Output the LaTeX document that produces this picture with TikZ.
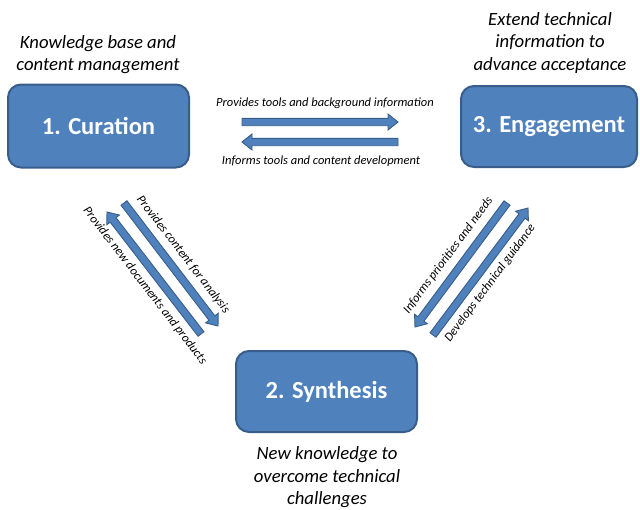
\documentclass[tikz,border=0pt]{standalone}
\usepackage{fontspec}
\setmainfont{Carlito}
\usetikzlibrary{calc}
\definecolor{boxblue}{HTML}{4F81BD}
\definecolor{boxline}{HTML}{385D8A}
\begin{document}
\begin{tikzpicture}[x=1pt,y=-1pt,
  box/.style={draw=boxline, fill=boxblue, line width=2pt, rounded corners=13pt,
    text=white, font=\fontsize{24.5}{28}\selectfont\bfseries, inner sep=0pt},
  note/.style={font=\fontsize{18.7}{22.5}\selectfont\itshape, align=center, inner sep=0pt},
  lbl/.style={font=\fontsize{12.5}{14}\selectfont\itshape, inner sep=0pt},
  blockarrow/.style={draw=boxline, fill=boxblue, line width=0.9pt, line join=miter,
    to path={
      ($(\tikztotarget)!10pt!(\tikztostart)$) coordinate (tmph)
      ($(\tikztostart)!3.7pt!90:(\tikztotarget)$)
      -- ($(tmph)!3.7pt!90:(\tikztotarget)$)
      -- ($(tmph)!8pt!90:(\tikztotarget)$)
      -- (\tikztotarget)
      -- ($(tmph)!8pt!-90:(\tikztotarget)$)
      -- ($(tmph)!3.7pt!-90:(\tikztotarget)$)
      -- ($(\tikztostart)!3.7pt!-90:(\tikztotarget)$)
      -- cycle}}
]
\useasboundingbox (0,0) rectangle (640,509);

% boxes
\node[box, minimum width=181pt, minimum height=83pt] (cur) at (98.5,126) {1. Curation};
\node[box, minimum width=176pt, minimum height=81pt] (eng) at (549,126.5) {3. Engagement};
\node[box, minimum width=181pt, minimum height=81pt] (syn) at (326.5,391.5) {2. Synthesis};

% notes
\node[note] (kb) at (98,54.5) {Knowledge base and\\content management};
\node[note] (ext) at (550,43) {Extend technical\\information to\\advance acceptance};
\node[note] (nk) at (327,477.5) {New knowledge to\\overcome technical\\challenges};

% arrow end points
\coordinate (a1s) at (242,122);  \coordinate (a1t) at (398,122);
\coordinate (a2s) at (398,142);  \coordinate (a2t) at (242,142);
\coordinate (a3s) at (124,203);  \coordinate (a3t) at (218,326);
\coordinate (a4s) at (201,334);  \coordinate (a4t) at (107,212);
\coordinate (a5s) at (507,203);  \coordinate (a5t) at (415,327);
\coordinate (a6s) at (433,335);  \coordinate (a6t) at (528,208);

\draw[blockarrow] (a1s) to (a1t);
\draw[blockarrow] (a2s) to (a2t);
\draw[blockarrow] (a3s) to (a3t);
\draw[blockarrow] (a4s) to (a4t);
\draw[blockarrow] (a5s) to (a5t);
\draw[blockarrow] (a6s) to (a6t);

% arrow labels
\node[lbl] (l1) at (325,103) {Provides tools and background information};
\node[lbl] (l2) at (321,161) {Informs tools and content development};
\node[lbl, anchor=base, rotate=-52.3] (l3) at (180.5,256.8) {Provides content for analysis};
\node[lbl, anchor=base, rotate=-52.4] (l4) at (142.2,287.8) {Provides new documents and products};
\node[lbl, anchor=base, rotate=53.4] (l5) at (451,257.5) {Informs priorities and needs};
\node[lbl, anchor=base, rotate=53.2] (l6) at (492.8,285.1) {Develops technical guidance};
\end{tikzpicture}
\end{document}
